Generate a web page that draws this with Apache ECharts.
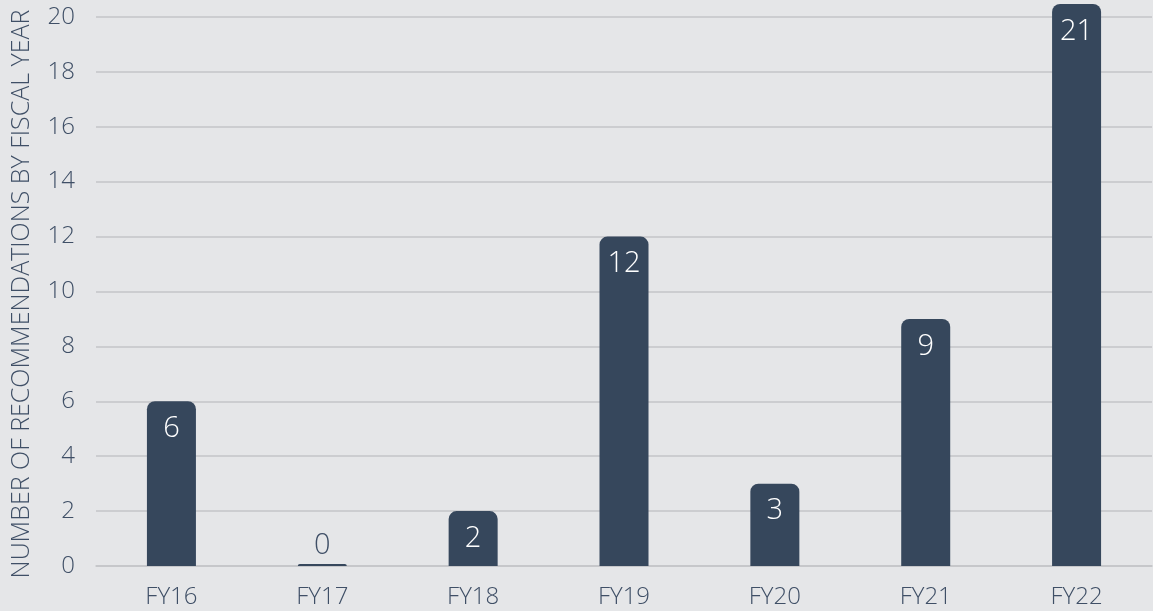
<!DOCTYPE html>
<html>
<head>
<meta charset="utf-8">
<script src="https://cdn.jsdelivr.net/npm/echarts@6/dist/echarts.min.js"></script>
<style>
html,body{margin:0;padding:0;background:#e5e6e8;}
#chart{width:1153px;height:611px;}
</style>
</head>
<body>
<div id="chart"></div>
<script>
const categories = ['FY16','FY17','FY18','FY19','FY20','FY21','FY22'];
const values = [6, 0, 2, 12, 3, 9, 21];
const yTickValues = [0, 2, 4, 6, 8, 10, 12, 14, 16, 18, 20];
const yAxisTitle = 'NUMBER OF RECOMMENDATIONS BY FISCAL YEAR';

const textColor = '#3f4f66';
const barColor = '#36475c';
const font = '"Open Sans", "Noto Sans", sans-serif';

const seriesData = values.map(v => ({
  value: v,
  label: v > 0
    ? { position: 'insideTop', distance: 13, color: '#ffffff' }
    : { position: 'top', distance: 4, color: textColor }
}));

const chart = echarts.init(document.getElementById('chart'));
chart.setOption({
  backgroundColor: '#e5e6e8',
  animation: false,
  grid: { left: 96, right: 1, top: 4, bottom: 45, containLabel: false, outerBoundsMode: 'none' },
  xAxis: {
    type: 'category',
    data: categories,
    axisLine: { show: true, lineStyle: { color: '#c3c5c8', width: 1.5 } },
    axisTick: { show: false },
    axisLabel: { color: textColor, fontFamily: font, fontSize: 24, fontWeight: 300, margin: 19 }
  },
  yAxis: {
    type: 'value',
    min: 0,
    max: 20.47,
    interval: 2,
    name: yAxisTitle,
    nameLocation: 'middle',
    nameRotate: 90,
    nameGap: 62,
    nameTextStyle: { color: textColor, fontFamily: font, fontSize: 25, fontWeight: 300, padding: [0, 18, 0, 0] },
    axisLine: { show: false },
    axisTick: { show: false },
    axisLabel: {
      color: textColor, fontFamily: font, fontSize: 24, fontWeight: 300, margin: 21,
      showMaxLabel: false,
      formatter: v => (yTickValues.indexOf(v) >= 0 ? String(v) : '')
    },
    splitLine: { show: true, showMaxLine: false, lineStyle: { color: '#c3c5c8', width: 1.5 } }
  },
  series: [{
    type: 'bar',
    data: seriesData,
    barWidth: 49,
    barMinHeight: 2,
    clip: true,
    itemStyle: { color: barColor, borderRadius: [8, 8, 0, 0] },
    label: { show: true, fontFamily: font, fontSize: 29, fontWeight: 300 }
  }]
});
</script>
</body>
</html>
